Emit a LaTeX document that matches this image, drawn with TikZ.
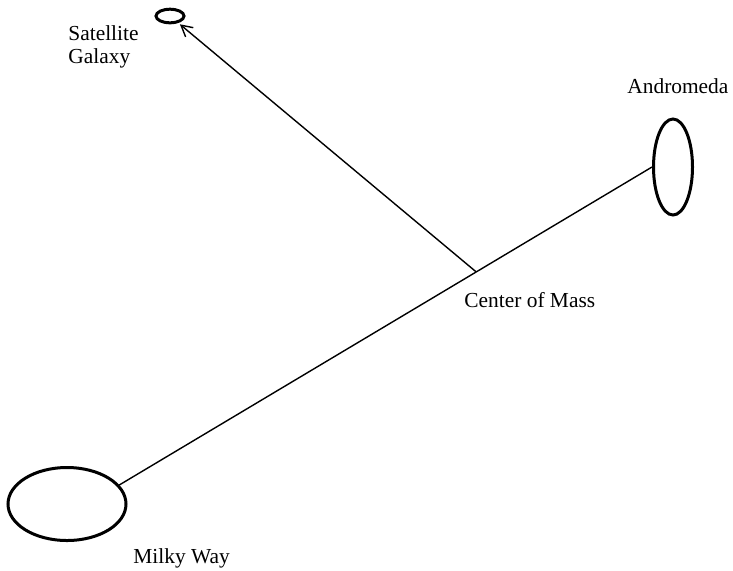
\documentclass[tikz,border=0pt]{standalone}
\usepackage{fontspec}
\setmainfont{Liberation Serif}
\usepackage{tikz}
\usetikzlibrary{arrows.meta, shapes.geometric}

\begin{document}
\begin{tikzpicture}[
    x=0.5pt, y=-0.5pt,
    galaxy/.style={
        ellipse,
        draw=black,
        line width=1.5pt,
        inner sep=0pt
    },
    tag/.style={
        inner sep=0pt,
        anchor=base west,
        font=\fontsize{10.7}{11.5}\selectfont
    },
    link/.style={line width=0.7pt},
    arrow/.style={-{Straight Barb[length=5.5pt,width=6pt]}, line width=0.7pt, shorten >=1pt}
]

% Frame
\useasboundingbox (0,0) rectangle (733,570);

% Galaxies
\node[galaxy, minimum width=59pt, minimum height=36.5pt] (mw) at (67,504) {};
\node[galaxy, minimum width=19.5pt, minimum height=48pt] (and) at (673,167) {};
\node[galaxy, minimum width=14pt, minimum height=6.8pt] (sat) at (170,16) {};

% Labels
\node[tag] (mwlabel) at (133,563) {Milky Way};
\node[tag] (andlabel) at (627,93) {Andromeda};
\node[tag, anchor=north west, align=left] (satlabel) at (68,25) {Satellite\\Galaxy};

% Line and centre of mass
\draw[link] (mw.20) -- coordinate[pos=0.67] (com) (and.180);
\node[tag] (comlabel) at (464,307) {Center of Mass};

% Arrow
\draw[arrow] (com) -- (sat);

\end{tikzpicture}
\end{document}
